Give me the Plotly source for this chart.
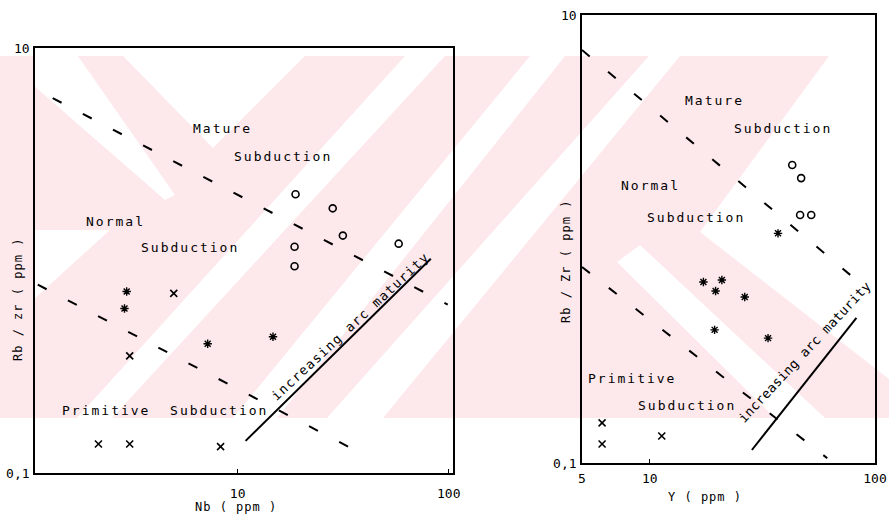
import plotly.graph_objects as go

# ---------------- data: left panel (Rb/Zr vs Nb) ----------------
nb_circle = [18.8, 28.2, 31.5, 18.6, 57.9, 18.6]
rbzr_nb_circle = [2.05, 1.76, 1.31, 1.16, 1.20, 0.94]
nb_star = [2.98, 2.91, 7.21, 14.7]
rbzr_nb_star = [0.715, 0.594, 0.406, 0.438]
nb_cross = [4.98, 3.08, 2.19, 3.08, 8.3]
rbzr_nb_cross = [0.70, 0.356, 0.137, 0.137, 0.133]

nb_upper_x = [1.33, 98.9]
nb_upper_y = [5.81, 0.62]
nb_lower_x = [1.13, 39.5]
nb_lower_y = [0.77, 0.122]
nb_arrow_x = [10.9, 82.2]
nb_arrow_y = [0.1416, 1.02]

# ---------------- data: right panel (Rb/Zr vs Y) ----------------
y_circle = [42.9, 47.0, 46.5, 52.1]
rbzr_y_circle = [2.14, 1.87, 1.28, 1.28]
y_star = [37.1, 17.3, 20.9, 19.6, 26.4, 19.4, 33.5]
rbzr_y_star = [1.06, 0.643, 0.656, 0.586, 0.551, 0.393, 0.361]
y_cross = [6.14, 6.14, 11.3]
rbzr_y_cross = [0.151, 0.1216, 0.132]

y_upper_x = [5, 77.8]
y_upper_y = [6.98, 0.69]
y_lower_x = [5, 61.4]
y_lower_y = [0.75, 0.105]
y_arrow_x = [28.4, 82.7]
y_arrow_y = [0.1143, 0.444]

# tick labels
left_xticks = [10, 100]
left_xtext = ["10", "100"]
right_xticks = [5, 10, 100]
right_xtext = ["5", "10", "100"]
yticks = [0.1, 10]
ytext = ["0,1", "10"]

W, H = 889, 525
FONT = "DejaVu Sans Mono"


def P(px, py):
    return px / W, 1 - py / H


fig = go.Figure()

dash = "10px,24px"
for xs, ys, xa, ya in [(nb_upper_x, nb_upper_y, "x", "y"), (nb_lower_x, nb_lower_y, "x", "y"),
                       (y_upper_x, y_upper_y, "x2", "y2"), (y_lower_x, y_lower_y, "x2", "y2")]:
    fig.add_trace(go.Scatter(x=xs, y=ys, mode="lines", xaxis=xa, yaxis=ya,
                             line=dict(color="black", width=2, dash=dash), showlegend=False))
for xs, ys, xa, ya in [(nb_arrow_x, nb_arrow_y, "x", "y"), (y_arrow_x, y_arrow_y, "x2", "y2")]:
    fig.add_trace(go.Scatter(x=xs, y=ys, mode="lines", xaxis=xa, yaxis=ya,
                             line=dict(color="black", width=2), showlegend=False))

for xs, ys, xa, ya in [(nb_circle, rbzr_nb_circle, "x", "y"), (y_circle, rbzr_y_circle, "x2", "y2")]:
    fig.add_trace(go.Scatter(x=xs, y=ys, mode="markers", xaxis=xa, yaxis=ya, showlegend=False,
                             marker=dict(symbol="circle-open", size=7, color="black", line=dict(width=1.6))))
for xs, ys, xa, ya in [(nb_star, rbzr_nb_star, "x", "y"), (y_star, rbzr_y_star, "x2", "y2")]:
    fig.add_trace(go.Scatter(x=xs, y=ys, mode="markers", xaxis=xa, yaxis=ya, showlegend=False,
                             marker=dict(symbol="asterisk-open", size=7, color="black", line=dict(width=1.4))))
for xs, ys, xa, ya in [(nb_cross, rbzr_nb_cross, "x", "y"), (y_cross, rbzr_y_cross, "x2", "y2")]:
    fig.add_trace(go.Scatter(x=xs, y=ys, mode="markers", xaxis=xa, yaxis=ya, showlegend=False,
                             marker=dict(symbol="x-thin-open", size=7, color="black", line=dict(width=1.6))))

axis_common = dict(type="log", showgrid=False, zeroline=False, showline=True, linecolor="black",
                   linewidth=1.6, mirror=True, ticks="inside", ticklen=4, tickcolor="black",
                   automargin=False,
                   tickfont=dict(family=FONT, size=13, color="black"))

fig.update_layout(
    width=W, height=H, margin=dict(l=0, r=0, t=0, b=0, autoexpand=False),
    paper_bgcolor="white", plot_bgcolor="rgba(0,0,0,0)",
    showlegend=False,
    xaxis=dict(axis_common, domain=[35 / W, 453 / W], range=[0.04, 2.02], anchor="y",
               tickvals=left_xticks, ticktext=left_xtext, ticklabelstandoff=8),
    yaxis=dict(axis_common, domain=[(H - 473) / H, (H - 48) / H], range=[-1, 1], anchor="x",
               tickvals=yticks, ticktext=ytext, ticklabelstandoff=1),
    xaxis2=dict(axis_common, domain=[582 / W, 875 / W], range=[0.69897, 2], anchor="y2",
                tickvals=right_xticks, ticktext=right_xtext, ticklabelstandoff=3),
    yaxis2=dict(axis_common, domain=[(H - 463) / H, (H - 15) / H], range=[-1, 1], anchor="x2",
                tickvals=yticks, ticktext=ytext, ticklabelstandoff=1),
)

# ---- faint pink background watermark of the scanned page ----
pink = "#fde8ec"
shapes = []
x0, y0 = P(0, 56)
x1, y1 = P(W, 418)
shapes.append(dict(type="rect", xref="paper", yref="paper", x0=x0, y0=y0, x1=x1, y1=y1,
                   fillcolor=pink, line=dict(width=0), layer="below"))


def poly(pts):
    s = ""
    for i, (px, py) in enumerate(pts):
        X, Y = P(px, py)
        s += ("M" if i == 0 else "L") + f"{X:.5f},{Y:.5f} "
    return dict(type="path", xref="paper", yref="paper", path=s + "Z",
                fillcolor="white", line=dict(width=0), layer="below")


white_areas = [
    [(77, 418), (112, 418), (445, 56), (405, 56)],
    [(233, 418), (277, 418), (565, 56), (530, 56)],
    [(327, 418), (383, 418), (680, 56), (649, 56)],
    [(829, 56), (W, 56), (W, 379), (700, 232)],
    [(617, 262), (640, 245), (825, 418), (775, 418)],
    [(33, 56), (78, 56), (175, 195), (165, 200), (33, 85)],
    [(123, 56), (305, 56), (213, 148)],
    [(33, 230), (110, 230), (33, 300)],
]
shapes += [poly(a) for a in white_areas]
fig.update_layout(shapes=shapes)


def ann(text, px, py, angle=0, size=13, spacing=2):
    X, Y = P(px, py)
    t = f'<span style="letter-spacing:{spacing}px">{text}</span>' if spacing else text
    fig.add_annotation(x=X, y=Y, xref="paper", yref="paper", text=t, showarrow=False,
                       textangle=angle, xanchor="center", yanchor="middle",
                       font=dict(family=FONT, size=size, color="black"))


# region labels left
ann("Mature", 223, 128)
ann("Subduction", 283, 156)
ann("Normal", 115, 222)
ann("Subduction", 190, 248)
ann("Primitive  Subduction", 165, 410)
ann("increasing arc maturity", 350, 326, angle=-43, spacing=1.3)
# region labels right
ann("Mature", 714, 100)
ann("Subduction", 783, 128)
ann("Normal", 650, 185)
ann("Subduction", 696, 217)
ann("Primitive", 632, 378)
ann("Subduction", 687, 405)
ann("increasing arc maturity", 804, 352, angle=-47, spacing=0.3)

# axis titles
ann("Rb / zr ( ppm )", 18, 300, angle=-90, size=12, spacing=1)
ann("Nb ( ppm )", 236, 507, size=12, spacing=1)
ann("Rb / Zr ( ppm )", 566, 262, angle=-90, size=12, spacing=1)
ann("Y ( ppm )", 705, 497, size=12, spacing=1)

fig.write_html("out.html", config={"displayModeBar": False},
               post_script="document.body.style.margin='0px';")
